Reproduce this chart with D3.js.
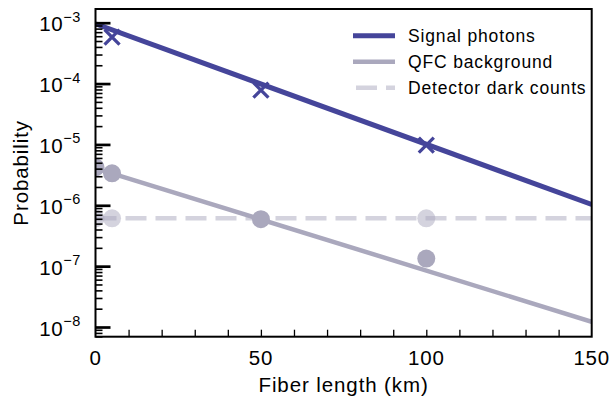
<!DOCTYPE html>
<html><head><meta charset="utf-8">
<script src="https://cdn.jsdelivr.net/npm/d3@7"></script>
<style>body{margin:0;background:#fff}svg{display:block;font-family:"Liberation Sans",Arial,Helvetica,sans-serif}</style>
</head><body><svg id="c" width="612" height="399"></svg>
<script>
// Data
const signalLineKm = [0, 150];
const signalLineVal = [9.6e-4, 1.03e-6];
const signalPtsKm = [5, 50, 100];
const signalPtsVal = [5.8e-4, 7.8e-5, 9.75e-6];
const qfcLineKm = [0, 150];
const qfcLineVal = [4.05e-6, 1.22e-8];
const qfcPtsKm = [0, 5, 50, 100];
const qfcPtsVal = [4.2e-6, 3.35e-6, 5.9e-7, 1.33e-7];
const darkLineKm = [0, 150];
const darkLineVal = [6.1e-7, 6.1e-7];
const darkPtsKm = [0, 5, 100];
const darkPtsVal = [6.1e-7, 6.1e-7, 6.1e-7];
const xTickLabels = [0, 50, 100, 150];
const yTickExps = [-3, -4, -5, -6, -7, -8];
const legendLabels = ["Signal photons", "QFC background", "Detector dark counts"];

const cSignal = "#45459a", cQfc = "#aaa8bd", cDark = "#aaa8bd";

const svg = d3.select("#c");
const L = 95.5, R = 591.7, T = 9, B = 336.7;
const x = d3.scaleLinear().domain([0, 150]).range([L, R]);
const y = d3.scaleLog().domain([6.93e-9, 1.68e-3]).range([B, T]);

svg.append("clipPath").attr("id", "clip").append("rect")
  .attr("x", L).attr("y", T).attr("width", R - L).attr("height", B - T);
const plot = svg.append("g").attr("clip-path", "url(#clip)");

const line = d3.line().x(d => x(d[0])).y(d => y(d[1]));
const zip = (a, b) => a.map((v, i) => [v, b[i]]);

// dark counts
plot.append("path").datum(zip(darkLineKm, darkLineVal)).attr("d", line)
  .attr("fill", "none").attr("stroke", cDark).attr("stroke-opacity", 0.5)
  .attr("stroke-width", 4.5).attr("stroke-dasharray", "21,9");
plot.selectAll(".dk").data(zip(darkPtsKm, darkPtsVal)).enter().append("circle")
  .attr("cx", d => x(d[0])).attr("cy", d => y(d[1])).attr("r", 9)
  .attr("fill", cDark).attr("fill-opacity", 0.5);

// QFC
plot.append("path").datum(zip(qfcLineKm, qfcLineVal)).attr("d", line)
  .attr("fill", "none").attr("stroke", cQfc).attr("stroke-width", 4.5);
plot.selectAll(".qf").data(zip(qfcPtsKm, qfcPtsVal)).enter().append("circle")
  .attr("cx", d => x(d[0])).attr("cy", d => y(d[1])).attr("r", 9)
  .attr("fill", cQfc);

// Signal
plot.append("path").datum(zip(signalLineKm, signalLineVal)).attr("d", line)
  .attr("fill", "none").attr("stroke", cSignal).attr("stroke-width", 5);
plot.selectAll(".sg").data(zip(signalPtsKm, signalPtsVal)).enter().append("path")
  .attr("d", d => { const cx = x(d[0]), cy = y(d[1]), s = 7.5;
    return `M${cx-s},${cy-s}L${cx+s},${cy+s}M${cx-s},${cy+s}L${cx+s},${cy-s}`; })
  .attr("stroke", cSignal).attr("stroke-width", 3.3).attr("fill", "none");

// Axes
const majors = yTickExps.map(e => Math.pow(10, e));
const minors = [];
for (let e = -9; e <= -3; e++) for (let m = 2; m <= 9; m++) {
  const v = m * Math.pow(10, e);
  if (v >= y.domain()[0] && v <= y.domain()[1]) minors.push(v);
}
const gyMinor = svg.append("g").attr("transform", `translate(${L},0)`)
  .call(d3.axisLeft(y).tickValues(minors).tickSize(-7).tickFormat(""));
gyMinor.selectAll("line").attr("stroke", "#000").attr("stroke-width", 1.6);
gyMinor.select(".domain").remove();
const gyMajor = svg.append("g").attr("transform", `translate(${L},0)`)
  .call(d3.axisLeft(y).tickValues(majors).tickSize(-15).tickFormat(""));
gyMajor.selectAll("line").attr("stroke", "#000").attr("stroke-width", 2.7);
gyMajor.select(".domain").remove();

const gx = svg.append("g").attr("transform", `translate(0,${B})`)
  .call(d3.axisBottom(x).tickValues(d3.range(10, 150, 10)).tickSize(-7).tickFormat(""));
gx.selectAll("line").attr("stroke", "#000").attr("stroke-width", 1.3);
gx.select(".domain").remove();

// frame
svg.append("rect").attr("x", L).attr("y", T).attr("width", R - L).attr("height", B - T)
  .attr("fill", "none").attr("stroke", "#000").attr("stroke-width", 2);

// tick labels
svg.selectAll(".xl").data(xTickLabels).enter().append("text")
  .attr("x", d => x(d)).attr("y", 365).attr("text-anchor", "middle")
  .attr("font-size", 20.5).attr("letter-spacing", 0.8).attr("fill", "#000").text(d => d);

const yl = svg.selectAll(".yl").data(yTickExps).enter().append("text")
  .attr("x", 81).attr("y", e => y(Math.pow(10, e)) + 8.5).attr("text-anchor", "end")
  .attr("font-size", 20.5).attr("letter-spacing", 0.6).attr("fill", "#000");
yl.append("tspan").text("10");
yl.append("tspan").attr("font-size", 14.5).attr("dy", -9.5).text(e => "\u2212" + Math.abs(e));

// axis titles
svg.append("text").attr("x", (L + R) / 2).attr("y", 392).attr("text-anchor", "middle")
  .attr("font-size", 20.5).attr("letter-spacing", 0.9).text("Fiber length (km)");
svg.append("text").attr("transform", `translate(28,${(T + B) / 2}) rotate(-90)`)
  .attr("text-anchor", "middle").attr("font-size", 20.5).attr("letter-spacing", 0.9).text("Probability");

// legend
const lg = svg.append("g");
const lgY = [35.7, 61.7, 87.7];
lg.append("line").attr("x1", 353).attr("x2", 395).attr("y1", lgY[0]).attr("y2", lgY[0])
  .attr("stroke", cSignal).attr("stroke-width", 5);
lg.append("line").attr("x1", 353).attr("x2", 395).attr("y1", lgY[1]).attr("y2", lgY[1])
  .attr("stroke", cQfc).attr("stroke-width", 4.5);
lg.append("line").attr("x1", 356).attr("x2", 395).attr("y1", lgY[2]).attr("y2", lgY[2])
  .attr("stroke", cDark).attr("stroke-opacity", 0.5).attr("stroke-width", 4.5)
  .attr("stroke-dasharray", "21,9");
lg.selectAll(".lt").data(legendLabels).enter().append("text")
  .attr("x", 408).attr("y", (d, i) => lgY[i] + 6.3).attr("font-size", 17.5)
  .attr("letter-spacing", 0.85).text(d => d);
</script></body></html>
